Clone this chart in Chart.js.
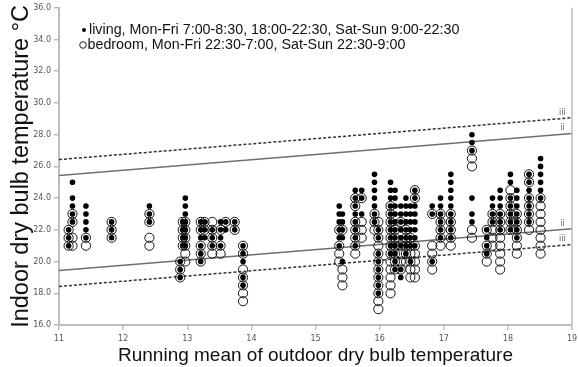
<!DOCTYPE html>
<html>
<head>
<meta charset="utf-8">
<script src="https://cdn.jsdelivr.net/npm/chart.js@4/dist/chart.umd.min.js"></script>
<style>
  html, body { margin: 0; padding: 0; background: #fff; }
  #wrap { width: 578px; height: 367px; }
</style>
</head>
<body>
<div id="wrap"><canvas id="c" width="578" height="367"></canvas></div>
<script>
// Running mean of outdoor temperature for each group of readings
const colX = [11.15, 11.21, 11.42, 11.82, 12.41, 12.89, 12.93, 12.97, 13.21, 13.27,
              13.39, 13.52, 13.60, 13.74, 13.87, 15.37, 15.42, 15.62, 15.72, 15.92,
              15.98, 16.17, 16.24, 16.33, 16.41, 16.48, 16.55, 16.82, 16.95, 17.11,
              17.44, 17.67, 17.76, 17.88, 18.04, 18.14, 18.33, 18.51];

// Indoor temperatures in the living room, one list per group
const livingCols = [
  [22, 21.5, 21], [25, 24, 23.5, 23, 22.5], [23.5, 23, 22.5, 22, 21.5], [22.5, 22, 21.5],
  [23.5, 23, 22.5], [20, 19.5, 19], [22.5, 22, 21.5, 21], [24, 23.5, 23, 22.5, 22, 21.5, 21],
  [22.5, 22, 21.5, 21, 20.5, 20], [22.5, 22, 21.5], [22, 21.5, 21], [22.5, 22, 21.5, 21],
  [22.5, 22], [22.5, 22], [21, 20.5, 20, 19, 18.5], [23.5, 23, 22.5, 22, 21.5, 21],
  [23, 22.5, 22, 21.5, 20], [24.5, 24, 23.5, 23, 22.5, 22, 21.5, 21], [24.5, 24, 23],
  [25.5, 25, 24.5, 24, 23.5, 23, 22.5], [22, 21.5, 20.5, 20, 19.5, 19, 18.5, 18],
  [25, 24.5, 24, 23.5, 23, 22.5, 22, 21.5, 21, 20.5],
  [24.5, 24, 23.5, 23, 22.5, 22, 21.5, 21, 20.5, 20, 19.5],
  [23.5, 23, 22.5, 22, 21.5, 21, 19.5, 19], [24, 23.5, 23, 22.5, 22, 21.5, 21, 20.5],
  [23.5, 23, 22.5, 22, 21.5, 21, 20], [24.5, 24, 23.5, 23, 22.5, 22, 21.5, 21],
  [23.5, 23, 20], [24, 23.5, 23, 22.5, 22, 21.5], [25.5, 25, 24.5, 24, 23.5, 23, 22.5, 22, 21.5],
  [28, 27.5, 27, 24, 23, 22.5], [22, 21.5, 21, 20.5], [24, 23.5, 23, 22.5],
  [24.5, 24, 23.5, 23, 22.5, 22], [25.5, 25, 24, 23.5, 23, 22.5, 22],
  [24.5, 24, 23.5, 23, 22.5, 22, 21.5], [25.5, 25, 24.5, 24, 23.5, 23, 22.5],
  [26.5, 26, 25.5, 25, 24.5, 24]
];

// Indoor temperatures in the bedroom, one list per group
const bedroomCols = [
  [22, 21.5, 21], [23, 22.5, 21.5, 21], [21.5, 21], [22.5, 22, 21.5],
  [23, 22.5, 21.5, 21], [20, 19.5, 19], [22.5, 22, 21.5, 21], [22.5, 22, 21.5, 21, 20.5, 20],
  [22.5, 22, 21, 20.5, 20], [22.5, 22], [22.5, 22, 21.5, 21, 20.5], [22, 21, 20.5],
  [22.5], [22.5, 22], [21, 20.5, 19.5, 19, 18.5, 18, 17.5], [22, 21, 20.5, 20],
  [22, 19.5, 19, 18.5], [24, 23.5, 22.5, 22, 21.5, 21, 20.5], [24, 22.5, 22, 21.5],
  [23, 22.5, 22], [22.5, 22, 21.5, 21, 20.5, 20, 19.5, 19, 18.5, 18, 17.5, 17],
  [23.5, 23, 22.5, 22, 21.5, 21, 20.5, 20, 19.5, 19, 18.5, 18],
  [22, 21.5, 21, 20.5, 20, 19.5], [22.5, 21, 20.5, 20, 19.5], [22, 21.5, 21, 20.5, 20],
  [21.5, 21, 20.5, 20, 19.5, 19], [24.5, 24, 21, 20.5, 20, 19.5, 19],
  [23, 21, 20.5, 20, 19.5], [23, 22.5, 22, 21.5, 21], [23, 22.5, 22, 21.5, 21],
  [27, 26.5, 26, 22, 21.5], [22, 21, 20.5, 20], [23, 22.5, 22, 21.5, 21],
  [23, 22.5, 22, 21.5, 21, 20.5, 20, 19.5], [24.5, 24, 23.5, 23, 22.5, 22],
  [23, 22.5, 22, 21.5, 21, 20.5], [25.5, 25, 24, 23.5, 23, 22.5, 22],
  [24, 23.5, 23, 22.5, 22, 21.5, 21, 20.5]
];

// Comfort band limits (value at x = 11 and x = 19)
const bandX = [11, 19];
const upperIII = [26.43, 29.07];
const upperII = [25.43, 28.07];
const lowerII = [19.43, 22.07];
const lowerIII = [18.43, 21.07];

const legendLiving = 'living, Mon-Fri 7:00-8:30, 18:00-22:30, Sat-Sun 9:00-22:30';
const legendBedroom = 'bedroom, Mon-Fri 22:30-7:00, Sat-Sun 22:30-9:00';

const toPoints = cols => colX.flatMap((x, i) => cols[i].map(y => ({ x, y })));
const toLine = vals => bandX.map((x, i) => ({ x, y: vals[i] }));

const TICK_FONT = { family: 'DejaVu Sans', size: 8 };
const TITLE_FAMILY = 'Liberation Sans';

const decorations = {
  id: 'decorations',
  afterDatasetsDraw(chart) {
    const { ctx, chartArea: a, scales: { x, y } } = chart;
    ctx.save();
    // right frame line
    ctx.strokeStyle = '#bdbdbd';
    ctx.lineWidth = 1.5;
    ctx.beginPath();
    ctx.moveTo(a.right, a.top);
    ctx.lineTo(a.right, a.bottom);
    ctx.stroke();

    // band labels
    ctx.font = '8px "DejaVu Sans"';
    ctx.fillStyle = '#666';
    ctx.textAlign = 'center';
    ctx.textBaseline = 'bottom';
    const lx = 18.85;
    const at = v => v[0] + (v[1] - v[0]) * (lx - bandX[0]) / (bandX[1] - bandX[0]);
    [[upperIII, 'iii'], [upperII, 'ii'], [lowerII, 'ii'], [lowerIII, 'iii']].forEach(([v, t]) => {
      ctx.fillText(t, x.getPixelForValue(lx), y.getPixelForValue(at(v)) - 2);
    });

    // legend inside the plot
    ctx.fillStyle = '#000';
    ctx.beginPath();
    ctx.arc(84, 30, 2, 0, Math.PI * 2);
    ctx.fill();
    ctx.strokeStyle = '#222';
    ctx.lineWidth = 1;
    ctx.beginPath();
    ctx.arc(83, 45, 3.3, 0, Math.PI * 2);
    ctx.stroke();
    ctx.font = '14.3px "' + TITLE_FAMILY + '"';
    ctx.fillStyle = '#111';
    ctx.textAlign = 'left';
    ctx.textBaseline = 'middle';
    ctx.fillText(legendLiving, 89, 30);
    ctx.fillText(legendBedroom, 87.5, 45);
    ctx.restore();
  }
};

new Chart(document.getElementById('c'), {
  type: 'scatter',
  data: {
    datasets: [
      { label: 'living', data: toPoints(livingCols), order: 0,
        pointRadius: 2.8, pointBackgroundColor: '#000', pointBorderWidth: 0 },
      { label: 'bedroom', data: toPoints(bedroomCols), order: 1,
        pointRadius: 4.6, pointBackgroundColor: 'rgba(0,0,0,0)', pointBorderColor: '#151515', pointBorderWidth: 1 },
      { type: 'line', label: 'iii', data: toLine(upperIII), order: 2, borderColor: '#333',
        borderWidth: 1.5, borderDash: [3, 2], pointRadius: 0 },
      { type: 'line', label: 'ii', data: toLine(upperII), order: 2, borderColor: '#6e6e6e',
        borderWidth: 1.5, pointRadius: 0 },
      { type: 'line', label: 'ii', data: toLine(lowerII), order: 2, borderColor: '#6e6e6e',
        borderWidth: 1.5, pointRadius: 0 },
      { type: 'line', label: 'iii', data: toLine(lowerIII), order: 2, borderColor: '#333',
        borderWidth: 1.5, borderDash: [3, 2], pointRadius: 0 }
    ]
  },
  options: {
    responsive: false,
    animation: false,
    devicePixelRatio: 1,
    layout: { padding: { top: 7, right: 6, left: 0, bottom: 0 } },
    plugins: { legend: { display: false }, tooltip: { enabled: false } },
    scales: {
      x: {
        type: 'linear', min: 11, max: 19,
        ticks: { stepSize: 1, font: TICK_FONT, color: '#555', padding: 4, maxRotation: 0 },
        grid: { drawOnChartArea: false, tickLength: 5, color: '#bdbdbd', lineWidth: 1.5 },
        border: { color: '#bdbdbd', width: 2 },
        title: { display: true, text: 'Running mean of outdoor dry bulb temperature',
                 font: { family: TITLE_FAMILY, size: 19 }, color: '#111', padding: { top: 6, bottom: 0 } },
        afterFit: s => { s.height = 42; s.paddingRight = 0; s.paddingLeft = 0; }
      },
      y: {
        min: 16, max: 36,
        ticks: { stepSize: 2, font: TICK_FONT, color: '#555', padding: 3,
                 callback: v => v.toFixed(1) },
        grid: { drawOnChartArea: false, tickLength: 5, color: '#bdbdbd', lineWidth: 1.5 },
        border: { color: '#bdbdbd', width: 2 },
        title: { display: true, text: 'Indoor dry bulb temperature °C',
                 font: { family: TITLE_FAMILY, size: 23.5 }, color: '#111', padding: { top: 7, bottom: 0 } },
        afterFit: s => { s.width = 59; }
      }
    }
  },
  plugins: [decorations]
});
</script>
</body>
</html>
